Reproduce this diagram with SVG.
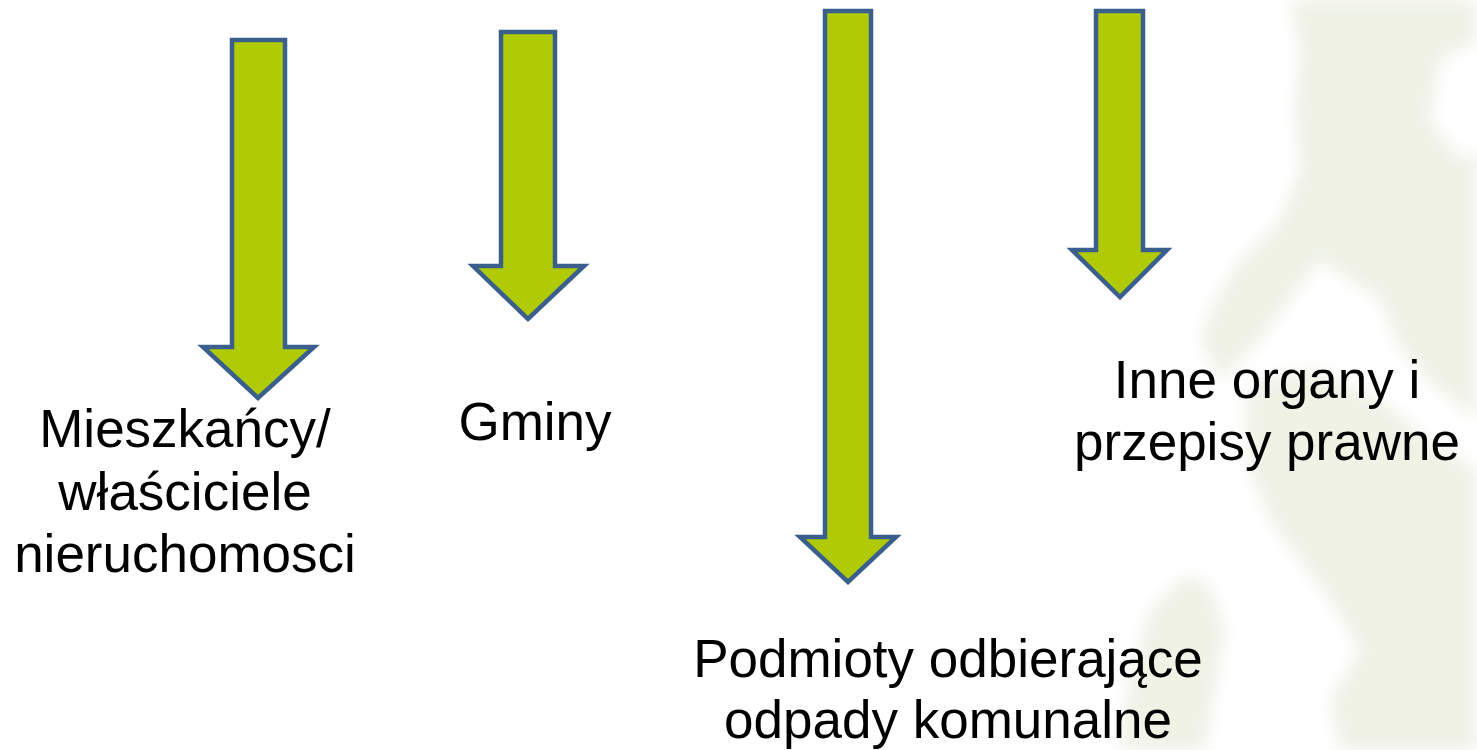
<svg xmlns="http://www.w3.org/2000/svg" width="1477" height="750" viewBox="0 0 1477 750">
<style>
.arrow{fill:#B0CA05;stroke:#3A5F8C;stroke-width:4.5;stroke-linejoin:miter}
.lbl{font-family:"Liberation Sans",Arial,sans-serif;font-size:53px;fill:#000;text-anchor:middle}
.leaf{fill:#E2E8D0;opacity:0.55}
</style>
<defs>
<filter id="soft" x="-20%" y="-20%" width="140%" height="140%"><feGaussianBlur stdDeviation="8"/></filter>
</defs>
<rect width="1477" height="750" fill="#fff"/>
<g id="background-tree" filter="url(#soft)">
<path class="leaf" d="M1290,0 L1477,0 L1477,40 L1440,60 L1430,120 L1460,160 L1477,150 L1477,420 L1440,390 L1400,350 L1380,300 L1320,260 L1290,300 L1260,340 L1220,380 L1200,340 L1215,300 L1240,260 L1280,220 L1300,170 L1295,110 L1300,50 Z"/>
<path class="leaf" d="M1250,380 L1320,370 L1380,400 L1430,440 L1477,470 L1477,750 L1340,750 L1330,700 L1360,650 L1330,600 L1300,560 L1270,520 L1250,470 L1245,420 Z"/>
<path class="leaf" d="M1150,610 L1185,575 L1210,585 L1225,630 L1215,690 L1205,750 L1120,750 L1130,680 Z"/>
</g>
<g id="connectors">
<g id="arrow-mieszkancy"><path class="arrow" d="M232,40 L285,40 L285,347 L314,347 L258,398 L203,347 L232,347 Z"/></g>
<g id="arrow-gminy"><path class="arrow" d="M501,32 L555,32 L555,266 L584,266 L528,319 L473,266 L501,266 Z"/></g>
<g id="arrow-podmioty"><path class="arrow" d="M825,11 L871,11 L871,537 L896,537 L848,582 L800,537 L825,537 Z"/></g>
<g id="arrow-inne"><path class="arrow" d="M1096,11 L1143,11 L1143,250 L1167,250 L1120,297 L1072,250 L1096,250 Z"/></g>
</g>
<g id="node-mieszkancy"><text class="lbl" x="185" y="447">Mieszkańcy/</text><text class="lbl" x="185" y="510">właściciele</text><text class="lbl" x="185" y="572">nieruchomosci</text></g>
<g id="node-gminy"><text class="lbl" x="535" y="440">Gminy</text></g>
<g id="node-inne"><text class="lbl" x="1267" y="398">Inne organy i</text><text class="lbl" x="1267" y="460">przepisy prawne</text></g>
<g id="node-podmioty"><text class="lbl" x="948" y="677">Podmioty odbierające</text><text class="lbl" x="948" y="738">odpady komunalne</text></g>
</svg>
